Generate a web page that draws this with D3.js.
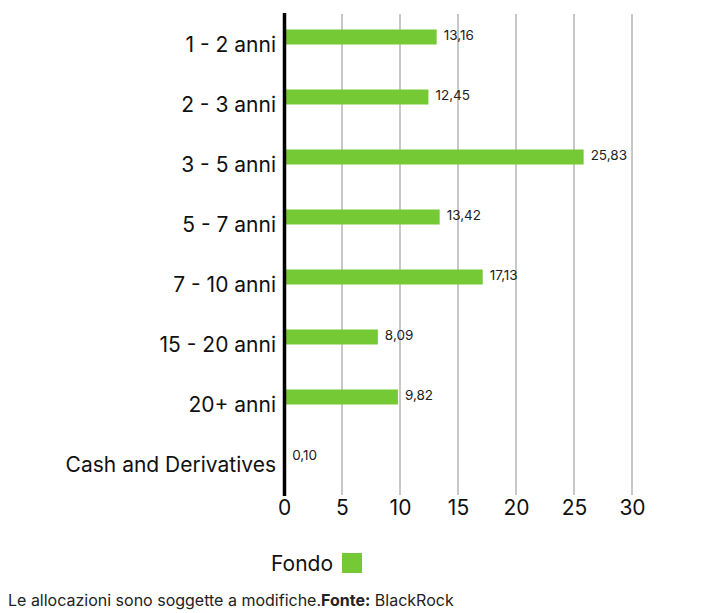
<!DOCTYPE html>
<html><head><meta charset="utf-8">
<script src="https://cdn.jsdelivr.net/npm/d3@7"></script>
<style>body{margin:0;background:#fff;} svg{display:block;font-family:"Inter",sans-serif;}</style>
</head><body>
<svg id="c" width="710" height="613"></svg>
<script>
const categories = ["1 - 2 anni","2 - 3 anni","3 - 5 anni","5 - 7 anni","7 - 10 anni","15 - 20 anni","20+ anni","Cash and Derivatives"];
const values = [13.16, 12.45, 25.83, 13.42, 17.13, 8.09, 9.82, 0.10];
const valueLabels = ["13,16","12,45","25,83","13,42","17,13","8,09","9,82","0,10"];
const ticks = [0,5,10,15,20,25,30];
const seriesName = "Fondo";
const green = "#74c935";
const FONT = "Inter, sans-serif";

const svg = d3.select("#c");
const x = d3.scaleLinear().domain([0,30]).range([284, 632]);
const y = d3.scaleBand().domain(categories).range([7,487]).paddingInner(0.75).paddingOuter(0.375);

svg.append("g").selectAll("line").data(ticks.filter(t=>t>0)).join("line")
  .attr("x1",d=>x(d)).attr("x2",d=>x(d)).attr("y1",14).attr("y2",495)
  .attr("stroke","#c8c8c8").attr("stroke-width",2);

svg.append("g").selectAll("rect").data(values).join("rect")
  .attr("x",x(0)).attr("y",(d,i)=>y(categories[i]))
  .attr("width",d=>x(d)-x(0)).attr("height",y.bandwidth())
  .attr("fill",green);

svg.append("g").selectAll("text").data(values).join("text")
  .attr("x",d=>x(d)+7).attr("y",(d,i)=>y(categories[i])+y.bandwidth()/2-1)
  .attr("dominant-baseline","middle").attr("font-size",13.5).attr("fill","#222")
  .text((d,i)=>valueLabels[i]);

svg.append("g").selectAll("text").data(categories).join("text")
  .attr("x",276).attr("y",d=>y(d)+y.bandwidth()/2+9)
  .attr("text-anchor","end").attr("dominant-baseline","middle")
  .attr("font-size",21).attr("fill","#111").text(d=>d);

svg.append("line").attr("x1",x(0)+0.5).attr("x2",x(0)+0.5).attr("y1",13).attr("y2",496)
  .attr("stroke","#000").attr("stroke-width",3.5);

const xAxis = d3.axisBottom(x).tickValues(ticks).tickSize(0).tickPadding(0);
const ax = svg.append("g").attr("transform","translate(0,500)").call(xAxis);
ax.select(".domain").remove();
ax.selectAll("text").attr("font-size",21).attr("fill","#111").attr("font-family",FONT);

svg.append("text").attr("x",333).attr("y",565).attr("text-anchor","end")
  .attr("dominant-baseline","middle").attr("font-size",21).attr("fill","#111").text(seriesName);
svg.append("rect").attr("x",342).attr("y",553).attr("width",20).attr("height",20).attr("fill",green);

const f = svg.append("text").attr("x",8).attr("y",606).attr("font-size",16).attr("fill","#222");
f.append("tspan").text("Le allocazioni sono soggette a modifiche.");
f.append("tspan").attr("font-weight","bold").text("Fonte:");
f.append("tspan").text(" BlackRock");
</script>
</body></html>
